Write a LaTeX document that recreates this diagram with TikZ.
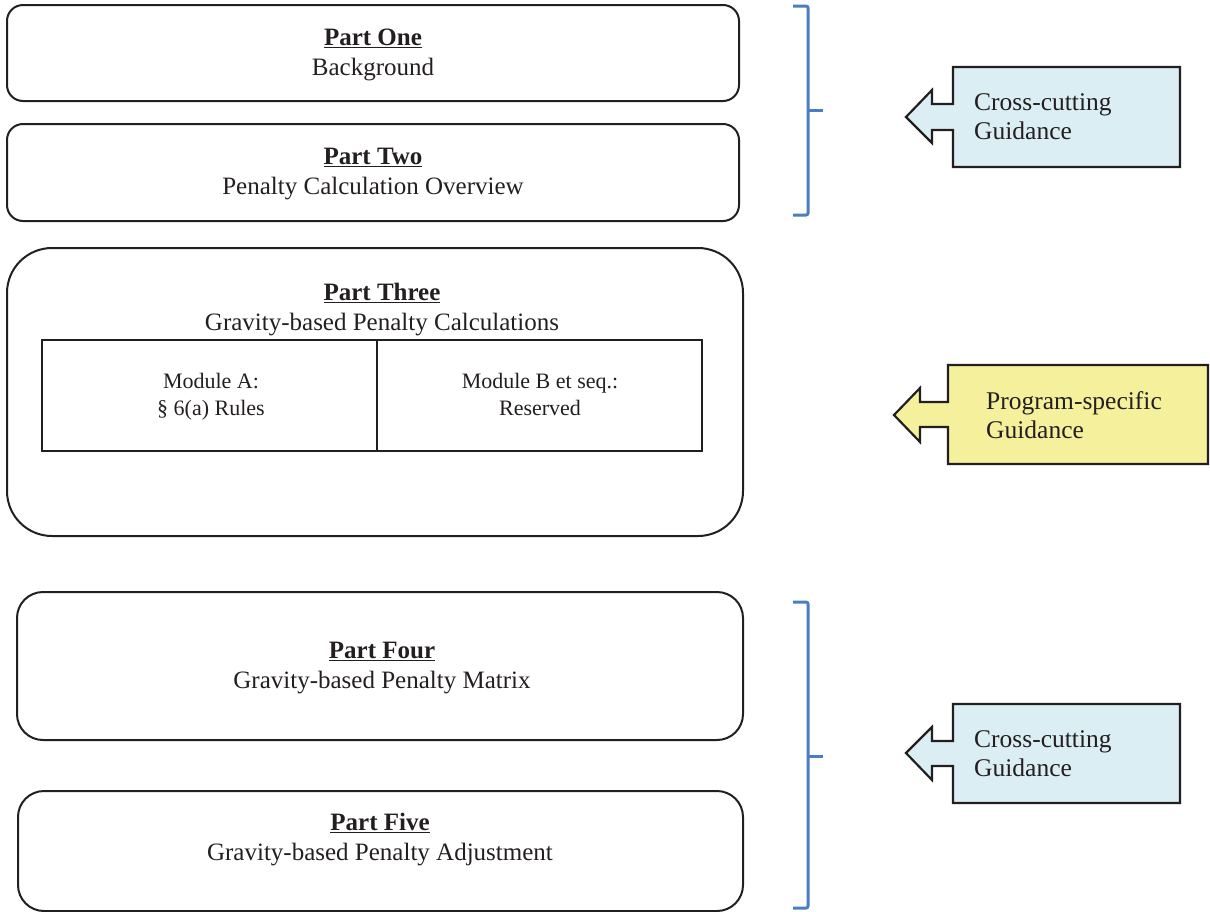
\documentclass[tikz,border=0pt]{standalone}
\usepackage{fontspec}
\setmainfont{Liberation Serif}
\definecolor{ink}{HTML}{231F20}
\definecolor{bracecol}{HTML}{4A7EC1}
\definecolor{cbblue}{HTML}{DBEEF4}
\definecolor{cbyellow}{HTML}{F4F09C}
\tikzset{
  partbox/.style={draw=ink, line width=2pt, rounded corners=#1},
  parttext/.style={text=ink, align=center, font=\fontsize{25}{30}\selectfont, inner sep=0pt},
  modtext/.style={text=ink, align=center, anchor=base, font=\fontsize{22}{27}\selectfont, inner sep=0pt},
  calltext/.style={text=ink, align=left, anchor=west, font=\fontsize{25.5}{29}\selectfont, inner sep=0pt},
  callout/.style={draw=ink, line width=2.2pt, line join=miter},
  bracket/.style={draw=bracecol, line width=3pt, rounded corners=2pt}
}
\begin{document}
\begin{tikzpicture}[x=1pt,y=-1pt]
\useasboundingbox (0,0) rectangle (1210,911);

% Part boxes
\node[partbox=16pt, minimum width=732pt, minimum height=96pt, inner sep=0pt] (p1) at (373,53) {};
\node[parttext] (p1t) at (373,55) {\textbf{\underline{Part One}}\\Background};

\node[partbox=16pt, minimum width=732pt, minimum height=97pt, inner sep=0pt] (p2) at (373,172.5) {};
\node[parttext] (p2t) at (373,174) {\textbf{\underline{Part Two}}\\Penalty Calculation Overview};

\node[partbox=45pt, minimum width=736pt, minimum height=288pt, inner sep=0pt] (p3) at (375,392) {};
\node[parttext] (p3t) at (382,310) {\textbf{\underline{Part Three}}\\Gravity-based Penalty Calculations};

\node[draw=ink, line width=2pt, minimum width=335pt, minimum height=111pt, inner sep=0pt] (ma) at (209.5,395.5) {};
\node[draw=ink, line width=2pt, minimum width=325pt, minimum height=111pt, inner sep=0pt] (mb) at (539.5,395.5) {};
\node[modtext] (mat) at (211,415) {Module A:\\\S\ 6(a) Rules};
\node[modtext] (mbt) at (540,415) {Module B et seq.:\\Reserved};

\node[partbox=26pt, minimum width=726pt, minimum height=148pt, inner sep=0pt] (p4) at (380,666) {};
\node[parttext] (p4t) at (382,668) {\textbf{\underline{Part Four}}\\Gravity-based Penalty Matrix};

\node[partbox=26pt, minimum width=725pt, minimum height=120pt, inner sep=0pt] (p5) at (380.5,851) {};
\node[parttext] (p5t) at (380,840) {\textbf{\underline{Part Five}}\\Gravity-based Penalty Adjustment};

% Brackets
\coordinate (b1t) at (793,6);
\coordinate (b1b) at (793,215);
\coordinate (b1m) at (823,110);
\draw[bracket] (b1t) -- (808,6) -- (808,215) -- (b1b);
\draw[bracket, rounded corners=0pt] (808,110) -- (b1m);

\coordinate (b2t) at (793,602);
\coordinate (b2b) at (793,908);
\coordinate (b2m) at (823,756);
\draw[bracket] (b2t) -- (808,602) -- (808,908) -- (b2b);
\draw[bracket, rounded corners=0pt] (808,756) -- (b2m);

% Callouts
\draw[callout, fill=cbblue] (953,67) -- (1180,67) -- (1180,167) -- (953,167) -- (953,130) -- (932,130) -- (932,143) -- (906,117) -- (932,90) -- (932,104) -- (953,104) -- cycle;
\node[calltext] (c1) at (974,117) {Cross-cutting\\Guidance};

\draw[callout, fill=cbyellow] (948,365) -- (1208,365) -- (1208,464) -- (948,464) -- (948,427) -- (920,427) -- (920,442) -- (894,415) -- (920,388) -- (920,402) -- (948,402) -- cycle;
\node[calltext] (c2) at (986,415) {Program-specific\\Guidance};

\draw[callout, fill=cbblue] (953,704) -- (1180,704) -- (1180,803) -- (953,803) -- (953,766) -- (932,766) -- (932,780) -- (906,753) -- (932,727) -- (932,741) -- (953,741) -- cycle;
\node[calltext] (c3) at (974,754) {Cross-cutting\\Guidance};
\end{tikzpicture}
\end{document}
